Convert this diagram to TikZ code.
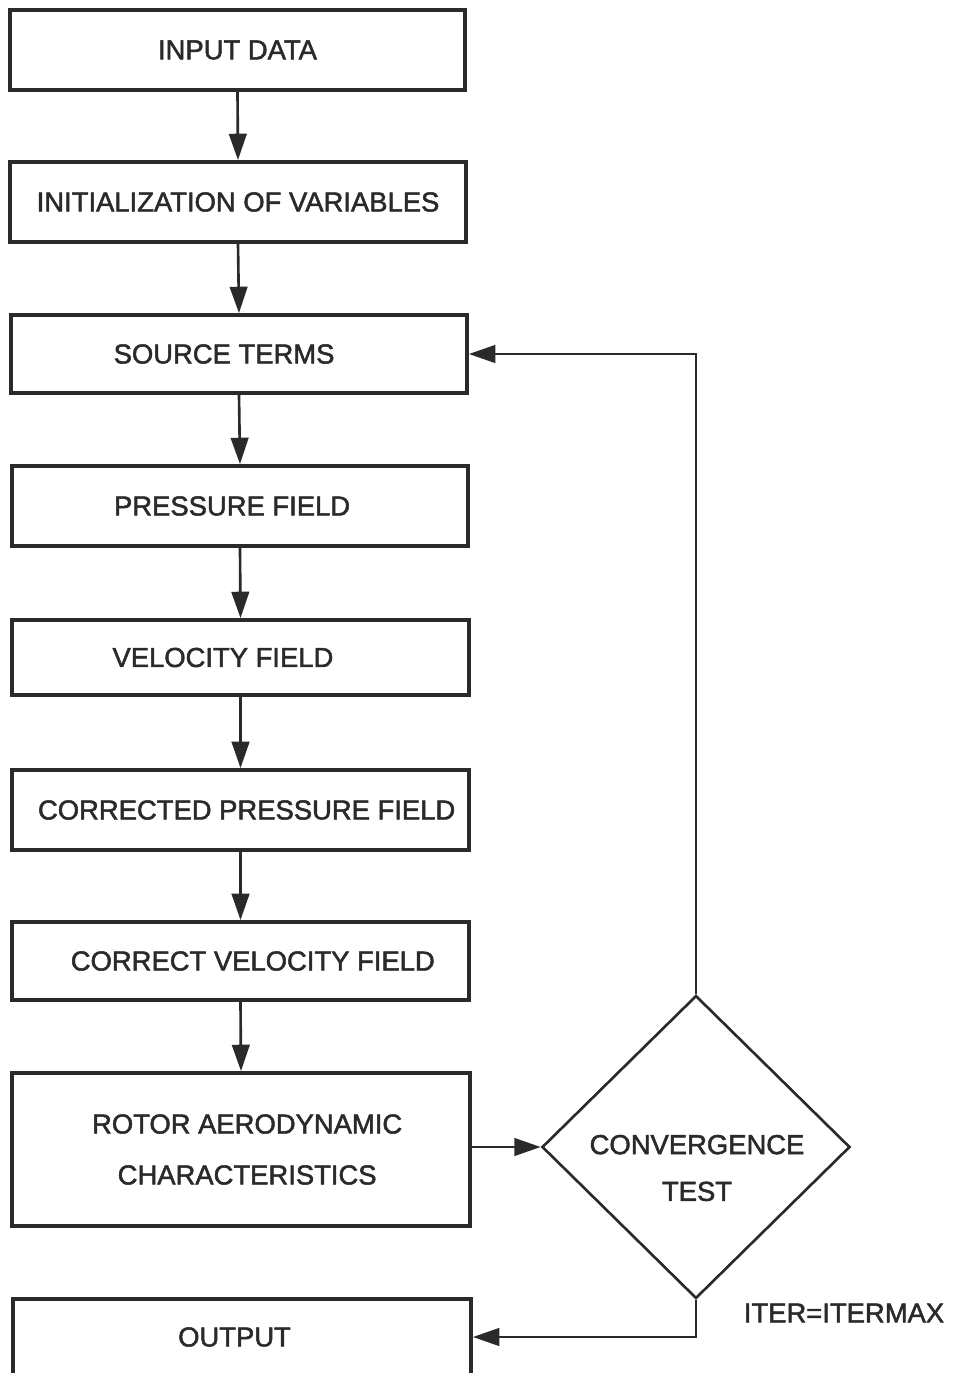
\documentclass[tikz,border=0pt]{standalone}
\usepackage{fontspec}
\setmainfont[FakeBold=1.8]{Liberation Sans}
\usetikzlibrary{arrows.meta,shapes.geometric}
\definecolor{ink}{HTML}{2A2A2A}
\begin{document}
\begin{tikzpicture}[x=0.02cm,y=-0.02cm,
  box/.style={draw=ink, line width=2.2pt, rectangle, inner sep=0pt, text=ink,
    font=\fontsize{15.6}{18}\selectfont, align=center},
  conn/.style={draw=ink, line width=1.5pt, -{Triangle[length=15pt,width=10pt]}},
  dec/.style={draw=ink, line width=1.5pt, diamond, aspect=1.0165, inner sep=0pt,
    minimum width=308*0.02cm, minimum height=303*0.02cm},
  lbl/.style={text=ink, font=\fontsize{15.6}{18}\selectfont, inner sep=0pt, align=center}]
\useasboundingbox (0,0) rectangle (954,1373);
\clip (0,0) rectangle (954,1373);
\fill[white] (0,0) rectangle (954,1373);
\node[box, minimum width=455*0.02cm, minimum height=80*0.02cm] (b1) at (237.5,50) {INPUT DATA};
\node[box, minimum width=456*0.02cm, minimum height=80*0.02cm] (b2) at (238,202) {\raisebox{-3pt}{INITIALIZATION OF VARIABLES}};
\node[box, minimum width=456*0.02cm, minimum height=78*0.02cm] (b3) at (239,354) {SOURCE TERMS\hspace{17pt}};
\node[box, minimum width=456*0.02cm, minimum height=80*0.02cm] (b4) at (240,506) {PRESSURE FIELD\hspace{9pt}};
\node[box, minimum width=457*0.02cm, minimum height=75*0.02cm] (b5) at (240.5,657.5) {VELOCITY FIELD\hspace{20pt}};
\node[box, minimum width=457*0.02cm, minimum height=80*0.02cm] (b6) at (240.5,810) {\hspace{7pt}CORRECTED PRESSURE FIELD};
\node[box, minimum width=457*0.02cm, minimum height=78*0.02cm] (b7) at (240.5,961) {\hspace{14pt}\raisebox{-2pt}{CORRECT VELOCITY FIELD}};
\node[box, minimum width=458*0.02cm, minimum height=153*0.02cm, font=\fontsize{15.6}{29}\selectfont] (b8) at (241,1149.5) {\hspace{7pt}ROTOR AERODYNAMIC\\\hspace{7pt}CHARACTERISTICS};
\node[box, minimum width=458*0.02cm, minimum height=76*0.02cm] (b9) at (242,1337) {OUTPUT\hspace{8.5pt}};
\node[dec] (d) at (696,1147) {};
\node[lbl, font=\fontsize{15.6}{26.6}\selectfont] (dt) at (697,1168) {CONVERGENCE\\TEST};
\node[lbl] (it) at (844,1313) {ITER=ITERMAX};
\draw[conn] (b1.south) -- (b2.north);
\draw[conn] (b2.south) -- (b3.north);
\draw[conn] (b3.south) -- (b4.north);
\draw[conn] (b4.south) -- (b5.north);
\draw[conn] (b5.south) -- (b6.north);
\draw[conn] (b6.south) -- (b7.north);
\draw[conn] (b7.south) -- (b8.north);
\draw[conn] (b8.east |- d.west) -- (d.west);
\draw[conn] (d.north) |- (b3.east);
\draw[conn] (d.south) |- (b9.east);
\end{tikzpicture}
\end{document}
